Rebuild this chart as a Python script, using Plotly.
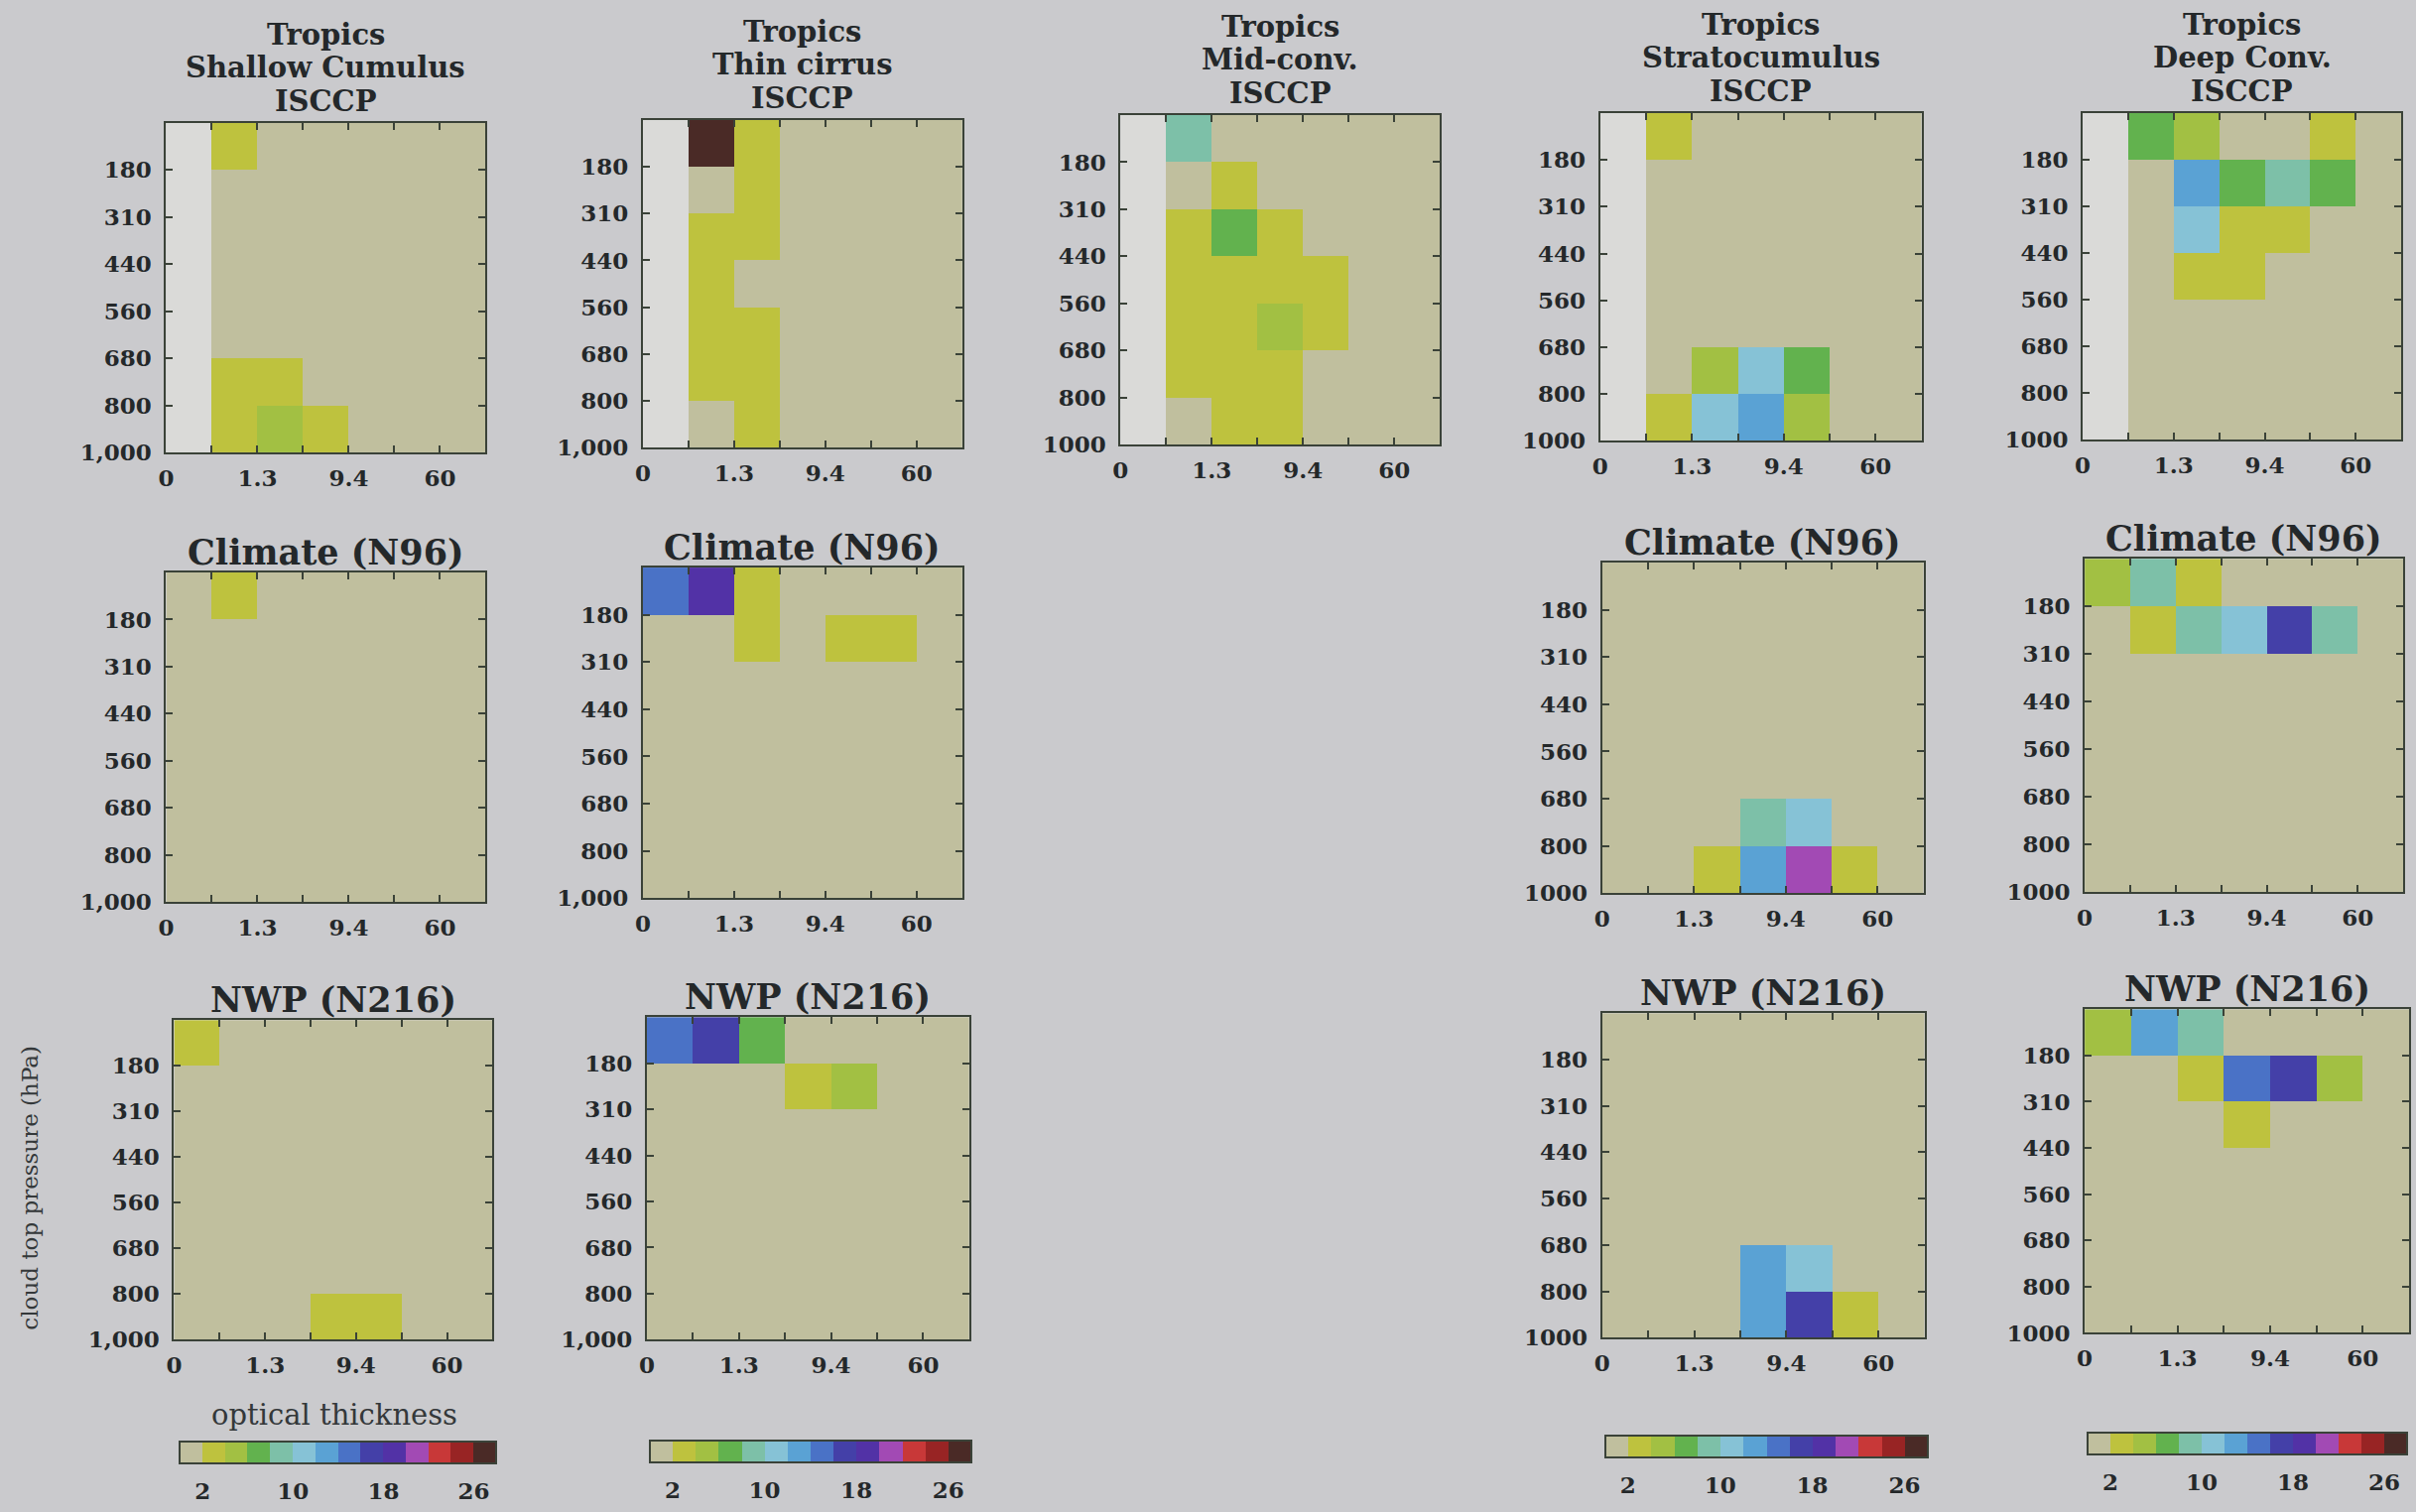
import plotly.graph_objects as go

# ---------------------------------------------------------------------------
# Joint histograms of cloud-top pressure vs optical thickness (% occurrence)
# Rows: pressure bins (top -> bottom), columns: optical-thickness bins
# ---------------------------------------------------------------------------
N = None

pressure_labels = ["180", "310", "440", "560", "680", "800", "1000"]
pressure_labels_comma = ["180", "310", "440", "560", "680", "800", "1,000"]
tau_labels = ["0", "", "1.3", "", "9.4", "", "60", ""]
colorbar_ticks = [2, 10, 18, 26]

# Tropics - ISCCP observations (first optical-thickness bin not observed)
shallow_cu_isccp = [
    [N, 3, 0, 0, 0, 0, 0],
    [N, 0, 0, 0, 0, 0, 0],
    [N, 0, 0, 0, 0, 0, 0],
    [N, 0, 0, 0, 0, 0, 0],
    [N, 0, 0, 0, 0, 0, 0],
    [N, 3, 3, 0, 0, 0, 0],
    [N, 3, 5, 3, 0, 0, 0],
]
thin_cirrus_isccp = [
    [N, 27, 3, 0, 0, 0, 0],
    [N, 0, 3, 0, 0, 0, 0],
    [N, 3, 3, 0, 0, 0, 0],
    [N, 3, 0, 0, 0, 0, 0],
    [N, 3, 3, 0, 0, 0, 0],
    [N, 3, 3, 0, 0, 0, 0],
    [N, 0, 3, 0, 0, 0, 0],
]
mid_conv_isccp = [
    [N, 9, 0, 0, 0, 0, 0],
    [N, 0, 3, 0, 0, 0, 0],
    [N, 3, 7, 3, 0, 0, 0],
    [N, 3, 3, 3, 3, 0, 0],
    [N, 3, 3, 5, 3, 0, 0],
    [N, 3, 3, 3, 0, 0, 0],
    [N, 0, 3, 3, 0, 0, 0],
]
stratocumulus_isccp = [
    [N, 3, 0, 0, 0, 0, 0],
    [N, 0, 0, 0, 0, 0, 0],
    [N, 0, 0, 0, 0, 0, 0],
    [N, 0, 0, 0, 0, 0, 0],
    [N, 0, 0, 0, 0, 0, 0],
    [N, 0, 5, 11, 7, 0, 0],
    [N, 3, 11, 13, 5, 0, 0],
]
deep_conv_isccp = [
    [N, 7, 5, 0, 0, 3, 0],
    [N, 0, 13, 7, 9, 7, 0],
    [N, 0, 11, 3, 3, 0, 0],
    [N, 0, 3, 3, 0, 0, 0],
    [N, 0, 0, 0, 0, 0, 0],
    [N, 0, 0, 0, 0, 0, 0],
    [N, 0, 0, 0, 0, 0, 0],
]

# Climate model (N96)
shallow_cu_climate = [
    [0, 3, 0, 0, 0, 0, 0],
    [0, 0, 0, 0, 0, 0, 0],
    [0, 0, 0, 0, 0, 0, 0],
    [0, 0, 0, 0, 0, 0, 0],
    [0, 0, 0, 0, 0, 0, 0],
    [0, 0, 0, 0, 0, 0, 0],
    [0, 0, 0, 0, 0, 0, 0],
]
thin_cirrus_climate = [
    [15, 19, 3, 0, 0, 0, 0],
    [0, 0, 3, 0, 3, 3, 0],
    [0, 0, 0, 0, 0, 0, 0],
    [0, 0, 0, 0, 0, 0, 0],
    [0, 0, 0, 0, 0, 0, 0],
    [0, 0, 0, 0, 0, 0, 0],
    [0, 0, 0, 0, 0, 0, 0],
]
stratocumulus_climate = [
    [0, 0, 0, 0, 0, 0, 0],
    [0, 0, 0, 0, 0, 0, 0],
    [0, 0, 0, 0, 0, 0, 0],
    [0, 0, 0, 0, 0, 0, 0],
    [0, 0, 0, 0, 0, 0, 0],
    [0, 0, 0, 9, 11, 0, 0],
    [0, 0, 3, 13, 21, 3, 0],
]
deep_conv_climate = [
    [5, 9, 3, 0, 0, 0, 0],
    [0, 3, 9, 11, 17, 9, 0],
    [0, 0, 0, 0, 0, 0, 0],
    [0, 0, 0, 0, 0, 0, 0],
    [0, 0, 0, 0, 0, 0, 0],
    [0, 0, 0, 0, 0, 0, 0],
    [0, 0, 0, 0, 0, 0, 0],
]

# NWP model (N216)
shallow_cu_nwp = [
    [3, 0, 0, 0, 0, 0, 0],
    [0, 0, 0, 0, 0, 0, 0],
    [0, 0, 0, 0, 0, 0, 0],
    [0, 0, 0, 0, 0, 0, 0],
    [0, 0, 0, 0, 0, 0, 0],
    [0, 0, 0, 0, 0, 0, 0],
    [0, 0, 0, 3, 3, 0, 0],
]
thin_cirrus_nwp = [
    [15, 17, 7, 0, 0, 0, 0],
    [0, 0, 0, 3, 5, 0, 0],
    [0, 0, 0, 0, 0, 0, 0],
    [0, 0, 0, 0, 0, 0, 0],
    [0, 0, 0, 0, 0, 0, 0],
    [0, 0, 0, 0, 0, 0, 0],
    [0, 0, 0, 0, 0, 0, 0],
]
stratocumulus_nwp = [
    [0, 0, 0, 0, 0, 0, 0],
    [0, 0, 0, 0, 0, 0, 0],
    [0, 0, 0, 0, 0, 0, 0],
    [0, 0, 0, 0, 0, 0, 0],
    [0, 0, 0, 0, 0, 0, 0],
    [0, 0, 0, 13, 11, 0, 0],
    [0, 0, 0, 13, 17, 3, 0],
]
deep_conv_nwp = [
    [5, 13, 9, 0, 0, 0, 0],
    [0, 0, 3, 15, 17, 5, 0],
    [0, 0, 0, 3, 0, 0, 0],
    [0, 0, 0, 0, 0, 0, 0],
    [0, 0, 0, 0, 0, 0, 0],
    [0, 0, 0, 0, 0, 0, 0],
    [0, 0, 0, 0, 0, 0, 0],
]

# ---------------------------------------------------------------------------
# Styling
# ---------------------------------------------------------------------------
W, H = 2435, 1524
PAGE_BG = "#cacacd"
MISSING_BG = "#dadad8"
FRAME = "#3a4238"
TEXT = "#24282a"
SERIF = "DejaVu Serif"

# discrete palette, one colour per 2 % step from 0 to 28
bin_colors = [
    "#c0bf9e", "#bec23e", "#a2c043", "#62b24e", "#7dc0a8", "#86c2d6",
    "#5aa2d4", "#4a72c6", "#4440a8", "#5232a6", "#a24ab4", "#c83838",
    "#982424", "#4a2a26",
]
ZMAX = 2 * len(bin_colors)
colorscale = []
for i, c in enumerate(bin_colors):
    colorscale.append([i / len(bin_colors), c])
    colorscale.append([(i + 1) / len(bin_colors), c])


def px_x(x):
    return x / W


def px_y(y):
    return 1 - y / H


# each panel: data, title lines, pixel box (left, right, top, bottom), grid column
panels = [
    (shallow_cu_isccp, ["Tropics", "Shallow Cumulus", "ISCCP"], (160, 483, 125, 460), 1),
    (thin_cirrus_isccp, ["Tropics", "Thin cirrus", "ISCCP"], (642, 965, 122, 455), 2),
    (mid_conv_isccp, ["Tropics", "Mid-conv.", "ISCCP"], (1125, 1448, 117, 452), 3),
    (stratocumulus_isccp, ["Tropics", "Stratocumulus", "ISCCP"], (1610, 1935, 115, 448), 4),
    (deep_conv_isccp, ["Tropics", "Deep Conv.", "ISCCP"], (2098, 2420, 115, 447), 5),
    (shallow_cu_climate, ["Climate (N96)"], (160, 483, 582, 917), 1),
    (thin_cirrus_climate, ["Climate (N96)"], (642, 965, 577, 913), 2),
    (stratocumulus_climate, ["Climate (N96)"], (1612, 1937, 572, 908), 4),
    (deep_conv_climate, ["Climate (N96)"], (2100, 2422, 568, 907), 5),
    (shallow_cu_nwp, ["NWP (N216)"], (168, 490, 1037, 1362), 1),
    (thin_cirrus_nwp, ["NWP (N216)"], (646, 972, 1034, 1362), 2),
    (stratocumulus_nwp, ["NWP (N216)"], (1612, 1938, 1030, 1360), 4),
    (deep_conv_nwp, ["NWP (N216)"], (2100, 2428, 1026, 1355), 5),
]

# colour bars under grid columns (left, right, top)
colorbars = {
    1: (174, 494, 1466),
    2: (649, 974, 1464),
    4: (1615, 1941, 1459),
    5: (2103, 2426, 1456),
}

centres = [i + 0.5 for i in range(7)]
fig = go.Figure()
layout = dict(
    width=W,
    height=H,
    margin=dict(l=0, r=0, t=0, b=0),
    paper_bgcolor=PAGE_BG,
    plot_bgcolor=MISSING_BG,
    showlegend=False,
    font=dict(family=SERIF, color=TEXT),
)
annotations = []

tick_font = dict(family=SERIF, size=23, color=TEXT, weight="bold")

for k, (z, title_lines, (x0, x1, y0, y1), col) in enumerate(panels, start=1):
    suffix = "" if k == 1 else str(k)
    ca = "coloraxis" if col == 1 else f"coloraxis{col}"
    fig.add_trace(
        go.Heatmap(
            z=z,
            x=centres,
            y=centres,
            coloraxis=ca,
            xaxis=f"x{suffix}",
            yaxis=f"y{suffix}",
            hoverongaps=False,
        )
    )
    ylabels = pressure_labels_comma if col in (1, 2) else pressure_labels
    common = dict(
        showgrid=False,
        zeroline=False,
        showline=True,
        linewidth=2,
        linecolor=FRAME,
        mirror="ticks",
        ticks="inside",
        ticklen=7,
        tickwidth=2,
        tickcolor=FRAME,
        tickfont=tick_font,
        fixedrange=True,
    )
    layout[f"xaxis{suffix}"] = dict(
        common,
        domain=[px_x(x0), px_x(x1)],
        anchor=f"y{suffix}",
        range=[0, 7],
        tickmode="array",
        tickvals=list(range(8)),
        ticktext=tau_labels,
        ticklabelstandoff=4,
    )
    layout[f"yaxis{suffix}"] = dict(
        common,
        domain=[px_y(y1), px_y(y0)],
        anchor=f"x{suffix}",
        range=[7, 0],
        tickmode="array",
        tickvals=list(range(1, 8)),
        ticktext=ylabels,
        ticklabelstandoff=8,
    )
    cx = (x0 + x1) / 2
    if len(title_lines) > 1:
        size, spacing, last = 29, 34, y0 - 22
    else:
        size, spacing, last = 35, 0, y0 - 21
    n = len(title_lines)
    for j, line in enumerate(title_lines):
        ty = last - (n - 1 - j) * spacing
        annotations.append(
            dict(
                text=line,
                x=px_x(cx),
                y=px_y(ty),
                xref="paper",
                yref="paper",
                xanchor="center",
                yanchor="middle",
                showarrow=False,
                font=dict(family=SERIF, size=size, color=TEXT, weight="bold"),
            )
        )

for col in range(1, 6):
    name = "coloraxis" if col == 1 else f"coloraxis{col}"
    ax = dict(colorscale=colorscale, cmin=0, cmax=ZMAX, showscale=col in colorbars)
    if col in colorbars:
        x0, x1, top = colorbars[col]
        ax["colorbar"] = dict(
            orientation="h",
            x=px_x((x0 + x1) / 2),
            xanchor="center",
            y=px_y(top),
            yanchor="top",
            len=(x1 - x0) / W,
            lenmode="fraction",
            thickness=22,
            thicknessmode="pixels",
            outlinewidth=2,
            outlinecolor=FRAME,
            tickmode="array",
            tickvals=colorbar_ticks,
            ticks="outside",
            ticklen=8,
            tickcolor="rgba(0,0,0,0)",
            tickfont=tick_font,
            xpad=0,
            ypad=0,
            bgcolor="rgba(0,0,0,0)",
        )
    layout[name] = ax

# axis titles for the lower-left panel
annotations.append(
    dict(
        text="cloud top pressure (hPa)",
        x=px_x(22),
        y=px_y(1207),
        xref="paper",
        yref="paper",
        textangle=-90,
        showarrow=False,
        xanchor="center",
        yanchor="middle",
        font=dict(family=SERIF, size=23, color="#34383a"),
    )
)
annotations.append(
    dict(
        text="optical thickness",
        x=px_x(330),
        y=px_y(1438),
        xref="paper",
        yref="paper",
        showarrow=False,
        xanchor="center",
        yanchor="middle",
        font=dict(family=SERIF, size=29, color="#34383a"),
    )
)

layout["annotations"] = annotations
fig.update_layout(**layout)
fig.write_html("out.html")
